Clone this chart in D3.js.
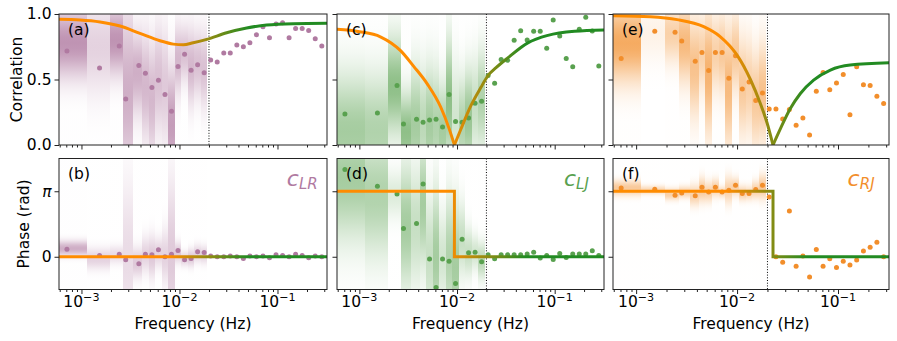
<!DOCTYPE html>
<html>
<head>
<meta charset="utf-8">
<script src="https://cdn.jsdelivr.net/npm/d3@7"></script>
<style>
	body { margin: 0; background: #fff; }
	text { font-family: 'DejaVu Sans', sans-serif; }
</style>
</head>
<body>
<script>

// frequencies of the estimated points (Hz)
var freq = [7.11e-4, 1.53e-3, 2.43e-3, 2.83e-3, 3.85e-3, 4.49e-3, 5.23e-3, 6.10e-3, 7.11e-3, 8.29e-3,
	9.66e-3, 1.127e-2, 1.313e-2, 1.531e-2, 1.786e-2, 2.081e-2, 2.427e-2, 2.831e-2, 3.298e-2, 3.846e-2,
	4.487e-2, 5.228e-2, 6.095e-2, 7.112e-2, 8.286e-2, 9.66e-2, 0.1127, 0.1313, 0.1531, 0.1786,
	0.2081, 0.2427, 0.2831];

// edges of the low frequency bins that carry an uncertainty band
var binEdges = [5.0e-4, 1.13e-3, 1.95e-3, 2.67e-3, 3.38e-3, 4.15e-3, 4.84e-3, 5.65e-3, 6.58e-3,
	7.67e-3, 8.95e-3, 1.043e-2, 1.216e-2, 1.419e-2, 1.653e-2, 1.928e-2];

var corrLR = [0.717, 0.587, 0.755, 0.352, 0.607, 0.548, 0.439, 0.495, 0.386, 0.258, 0.600, 0.692,
	0.571, 0.612, 0.551, 0.648, 0.633, 0.702, 0.702, 0.763, 0.750, 0.780, 0.842, 0.903, 0.819,
	0.923, 0.933, 0.819, 0.890, 0.890, 0.875, 0.811, 0.755];
var phaseLR = [0.36, 0.06, 0.12, -0.14, -0.34, 0.12, 0.09, 0.33, 0, 0.12, 0.30, -0.14, -0.08, 0.24,
	0.20, 0.03, 0, 0, 0.03, 0, -0.08, 0.03, 0, 0.03, -0.05, 0.10, 0.06, 0, 0.12, 0.06, -0.05, 0.03, 0];

var corrLJ = [0.237, 0.245, 0.454, 0.161, 0.197, 0.174, 0.191, 0.197, 0.138, 0.386, 0.179, 0.174,
	0.207, 0.319, 0.334, 0.531, 0.472, 0.653, 0.646, 0.799, 0.872, 0.801, 0.868, 0.868, 0.738,
	0.954, 0.832, 0.661, 0.597, 0.883, 0.975, 0.870, 0.604];
var phaseLJ = [4.19, 3.38, 3.01, 1.35, 1.59, 3.49, -0.11, -1.48, -0.11, -0.22, -1.28, 0.84, 0.19,
	0.21, -0.24, 0.10, -0.10, 0.10, 0.10, 0.10, 0.10, 0.13, 0.22, -0.06, 0.06, -0.13, 0.16, -0.03,
	0.13, 0.13, 0.13, 0.29, 0.06];

var corrRJ = [0.661, 0.868, 0.860, 0.793, 0.640, 0.707, 0.569, 0.707, 0.707, 0.510, 0.681, 0.428,
	0.480, 0.340, 0.396, 0.275, 0.275, 0.199, 0.271, 0.151, 0.207, 0.077, 0.411, 0.554, 0.421,
	0.474, 0.539, 0.230, 0.597, 0.459, 0.454, 0.373, 0.317];
var phaseRJ = [3.30, 3.24, 2.95, 3.06, 2.92, 3.33, 3.11, 3.33, 3.11, 3.19, 3.43, 3.03, 3.03, 3.22,
	3.43, 2.87, 0, -0.26, 2.20, -0.46, 0.03, -0.97, 0.35, -0.45, -0.10, -0.51, -0.22, -0.40, -0.16,
	0.27, 0.45, 0.70, 0];

// uncertainty bands per bin: [centre, spread, strength]
var bandsLRcorr = [[0.78, 0.18, 0.6], [0.75, 0.25, 0.25], [0.8, 0.18, 0.6], [0.4, 0.45, 0.45],
	[0.55, 0.22, 0.45], [0.45, 0.28, 0.4], [0.35, 0.3, 0.4], [0.5, 0.28, 0.35], [0.45, 0.3, 0.3],
	[0.15, 0.3, 0.55], [0.65, 0.18, 0.4], [0.7, 0.15, 0.35], [0.6, 0.2, 0.4], [0.62, 0.18, 0.35],
	[0.58, 0.2, 0.35]];
var bandsLRphase = [[0.4, 0.25, 0.45], [-0.1, 0.35, 0.25], [0.1, 0.3, 0.2], [0, 2.5, 0.2],
	[-0.3, 0.5, 0.3], [0.1, 0.6, 0.25], [0, 0.7, 0.3], [0.2, 0.5, 0.25], [0, 0.9, 0.25], [0, 2.5, 0.3],
	[0.2, 0.35, 0.3], [-0.1, 0.25, 0.25], [-0.05, 0.3, 0.3], [0.15, 0.3, 0.25], [0.1, 0.3, 0.25]];
var bandsLJcorr = [[0.1, 0.3, 0.4], [0.1, 0.3, 0.35], [0.45, 0.25, 0.5], [0.1, 0.2, 0.5],
	[0.15, 0.3, 0.4], [0.15, 0.3, 0.3], [0.15, 0.3, 0.4], [0.15, 0.3, 0.35], [0.1, 0.25, 0.4],
	[0.35, 0.3, 0.5], [0.2, 0.3, 0.2], [0.15, 0.25, 0.35], [0.2, 0.25, 0.45], [0.3, 0.25, 0.25],
	[0.35, 0.25, 0.35]];
var bandsLJphase = [[3.8, 2.0, 0.4], [3.0, 2.0, 0.35], [3.0, 0.8, 0.15], [1.5, 2.0, 0.4],
	[1.5, 2.0, 0.25], [2.5, 2.0, 0.4], [0, 2.0, 0.25], [0, 2.2, 0.4], [0, 1.5, 0.2], [0, 2.0, 0.35],
	[-0.5, 2.0, 0.4], [0.8, 1.2, 0.25], [0.2, 0.8, 0.25], [0.2, 0.6, 0.2], [-0.2, 0.6, 0.3]];
var bandsRJcorr = [[0.78, 0.2, 0.55], [0.85, 0.15, 0.08], [0.85, 0.15, 0.3], [0.78, 0.2, 0.45],
	[0.6, 0.25, 0.4], [0.7, 0.2, 0.3], [0.55, 0.3, 0.5], [0.7, 0.2, 0.3], [0.7, 0.2, 0.35],
	[0.45, 0.3, 0.45], [0.7, 0.2, 0.35], [0.45, 0.25, 0.35], [0.45, 0.25, 0.3], [0.35, 0.25, 0.35],
	[0.4, 0.25, 0.4]];
var bandsRJphase = [[3.3, 0.25, 0.35], [3.2, 0.15, 0.25], [3.0, 0.2, 0.3], [3.1, 0.2, 0.3],
	[2.95, 0.35, 0.3], [3.2, 0.4, 0.35], [3.1, 0.35, 0.3], [3.3, 0.3, 0.3], [3.1, 0.2, 0.25],
	[3.2, 0.45, 0.3], [3.35, 0.3, 0.3], [3.05, 0.25, 0.3], [3.05, 0.25, 0.25], [3.2, 0.3, 0.3],
	[3.35, 0.4, 0.35]];

// model curves
var fitFreqLR = [5.9e-4, 9.7e-4, 1.55e-3, 2.47e-3, 3.95e-3, 6.32e-3, 8.65e-3, 1.094e-2, 1.38e-2,
	1.9e-2, 3.03e-2, 4.85e-2, 7.76e-2, 0.145, 0.32];
var fitLR = [0.959, 0.954, 0.939, 0.908, 0.852, 0.796, 0.770, 0.765, 0.780, 0.806, 0.857, 0.893,
	0.916, 0.926, 0.929];
var fitFreqLJ = [5.9e-4, 1.0e-3, 1.64e-3, 2.64e-3, 3.6e-3, 4.97e-3, 6.8e-3, 8.3e-3, 9.4e-3,
	1.094e-2, 1.387e-2, 1.758e-2, 2.075e-2, 2.51e-2, 3.31e-2, 5.31e-2, 8.53e-2, 0.16, 0.32];
var fitLJ = [0.883, 0.865, 0.826, 0.72, 0.60, 0.465, 0.29, 0.125, 0, 0.12, 0.30, 0.44, 0.53, 0.59,
	0.665, 0.78, 0.837, 0.868, 0.878];
var fitFreqRJ = [5.9e-4, 1.387e-3, 2.55e-3, 4.67e-3, 6.84e-3, 1.0e-2, 1.355e-2, 1.70e-2, 1.98e-2,
	2.27e-2, 2.69e-2, 3.37e-2, 4.24e-2, 5.73e-2, 8.4e-2, 0.132, 0.32];
var fitRJ = [0.987, 0.979, 0.957, 0.903, 0.826, 0.686, 0.50, 0.317, 0.17, 0, 0.125, 0.278, 0.393,
	0.495, 0.572, 0.61, 0.627];

// model phase: [frequency, value] steps
var stepLR = [[5.9e-4, 0], [0.32, 0]];
var stepLJ = [[5.9e-4, Math.PI], [9.4e-3, 0], [0.32, 0]];
var stepRJ = [[5.9e-4, Math.PI], [2.27e-2, 0], [0.32, 0]];

var fDomain = [5.9e-4, 0.32],
	fCut = 0.02;

var orange = '#ff8c00',
	green = '#228b22',
	blendFrom = 0.008,
	blendTo = 0.05;

var cols = [[59, 327], [337, 604], [613, 889]],
	rows = [[14, 145], [158.5, 289.5]];

var series = [
	{name: 'LR', color: '#b07aa1', corr: corrLR, phase: phaseLR, bc: bandsLRcorr, bp: bandsLRphase,
		fitF: fitFreqLR, fitV: fitLR, step: stepLR, tags: ['(a)', '(b)'], cut: [true, false]},
	{name: 'LJ', color: '#59a14f', corr: corrLJ, phase: phaseLJ, bc: bandsLJcorr, bp: bandsLJphase,
		fitF: fitFreqLJ, fitV: fitLJ, step: stepLJ, tags: ['(c)', '(d)'], cut: [true, true]},
	{name: 'RJ', color: '#f28e2b', corr: corrRJ, phase: phaseRJ, bc: bandsRJcorr, bp: bandsRJphase,
		fitF: fitFreqRJ, fitV: fitRJ, step: stepRJ, tags: ['(e)', '(f)'], cut: [true, true]}
];

var fontSize = 15.5,
	bandGain = 1.35;

var svg = d3.select('body').append('svg')
	.attr('width', 897)
	.attr('height', 341);
var defs = svg.append('defs');

var minorTicks = [];
[1e-4, 1e-3, 1e-2, 1e-1].forEach(function(dec) {
	for (var k = 2; k < 10; k++) {
		var v = k * dec;
		if (v > fDomain[0] && v < fDomain[1]) minorTicks.push(v);
	}
});

series.forEach(function(s, c) {
	var xr = cols[c];
	var x = d3.scaleLog().domain(fDomain).range(xr);

	[0, 1].forEach(function(r) {
		var yr = rows[r];
		var y = r === 0
			? d3.scaleLinear().domain([0, 1]).range([yr[1], yr[0]])
			: d3.scaleLinear().domain([-Math.PI / 2, 3 * Math.PI / 2]).range([yr[1], yr[0]]);
		var id = 'p' + c + r;

		defs.append('clipPath').attr('id', 'clip' + id)
			.append('rect')
			.attr('x', xr[0])
			.attr('y', yr[0])
			.attr('width', xr[1] - xr[0])
			.attr('height', yr[1] - yr[0]);

		var g = svg.append('g');
		var plot = g.append('g').attr('clip-path', 'url(#clip' + id + ')');

		// uncertainty bands, a gaussian fade in each bin
		var bands = r === 0 ? s.bc : s.bp;
		bands.forEach(function(b, i) {
			var gid = 'band' + id + '_' + i;
			var grad = defs.append('linearGradient')
				.attr('id', gid)
				.attr('gradientUnits', 'userSpaceOnUse')
				.attr('x1', 0).attr('x2', 0)
				.attr('y1', y(b[0] + 3 * b[1]))
				.attr('y2', y(b[0] - 3 * b[1]));
			d3.range(25).forEach(function(k) {
				var t = k / 24, z = -3 + 6 * t;
				grad.append('stop')
					.attr('offset', t)
					.attr('stop-color', s.color)
					.attr('stop-opacity', Math.min(0.9, bandGain * b[2]) * Math.exp(-z * z / 2));
			});
			plot.append('rect')
				.attr('x', x(binEdges[i]))
				.attr('width', x(binEdges[i + 1]) - x(binEdges[i]))
				.attr('y', yr[0])
				.attr('height', yr[1] - yr[0])
				.attr('shape-rendering', 'crispEdges')
				.attr('fill', 'url(#' + gid + ')');
		});

		// cut-off frequency
		if (s.cut[r]) {
			plot.append('line')
				.attr('x1', x(fCut)).attr('x2', x(fCut))
				.attr('y1', yr[0]).attr('y2', yr[1])
				.attr('stroke', '#000')
				.attr('stroke-width', 1)
				.attr('stroke-dasharray', '1,1.7');
		}

		// estimates
		var vals = r === 0 ? s.corr : s.phase;
		plot.selectAll('circle.pt')
			.data(freq)
			.enter().append('circle')
			.attr('class', 'pt')
			.attr('cx', function(d) { return x(d); })
			.attr('cy', function(d, i) { return y(vals[i]); })
			.attr('r', 2.5)
			.attr('fill', s.color);

		// model line, orange at low and green at high frequency
		var lg = defs.append('linearGradient')
			.attr('id', 'lg' + id)
			.attr('gradientUnits', 'userSpaceOnUse')
			.attr('x1', x(blendFrom)).attr('x2', x(blendTo))
			.attr('y1', 0).attr('y2', 0);
		lg.append('stop').attr('offset', 0).attr('stop-color', orange);
		lg.append('stop').attr('offset', 1).attr('stop-color', green);

		if (r === 0) {
			var pts = s.fitF.map(function(f, i) { return [f, s.fitV[i]]; });
			var segs = [], cur = [];
			pts.forEach(function(p) {
				cur.push(p);
				if (p[1] === 0) { segs.push(cur); cur = [p]; }
			});
			segs.push(cur);
			var line = d3.line()
				.curve(d3.curveMonotoneX)
				.x(function(d) { return x(d[0]); })
				.y(function(d) { return y(d[1]); });
			segs.forEach(function(seg) {
				plot.append('path')
					.attr('d', line(seg))
					.attr('fill', 'none')
					.attr('stroke', 'url(#lg' + id + ')')
					.attr('stroke-width', 3);
			});
		} else {
			var step = d3.line()
				.curve(d3.curveStepAfter)
				.x(function(d) { return x(d[0]); })
				.y(function(d) { return y(d[1]); });
			plot.append('path')
				.attr('d', step(s.step))
				.attr('fill', 'none')
				.attr('stroke', 'url(#lg' + id + ')')
				.attr('stroke-width', 3);
		}

		// axes
		var xa = g.append('g')
			.attr('transform', 'translate(0,' + yr[1] + ')')
			.call(d3.axisBottom(x).tickValues([1e-3, 1e-2, 1e-1]).tickSize(4.5).tickFormat(''));
		var xm = g.append('g')
			.attr('transform', 'translate(0,' + yr[1] + ')')
			.call(d3.axisBottom(x).tickValues(minorTicks).tickSize(2.5).tickFormat(''));
		var ticksY = r === 0 ? [0, 0.5, 1] : [0, Math.PI];
		var ya = g.append('g')
			.attr('transform', 'translate(' + xr[0] + ',0)')
			.call(d3.axisLeft(y).tickValues(ticksY).tickSize(4.5).tickPadding(3)
				.tickFormat(function(d) {
					if (c > 0) return '';
					if (r === 0) return d3.format('.1f')(d);
					return d === 0 ? '0' : 'π';
				}));
		[xa, xm, ya].forEach(function(a) {
			a.select('.domain').remove();
			a.selectAll('line').attr('stroke', '#222').attr('stroke-width', 1);
			a.selectAll('text')
				.attr('font-size', fontSize)
				.attr('font-family', 'DejaVu Sans')
				.attr('fill', '#000');
		});
		ya.selectAll('text').filter(function(d) { return d === Math.PI; })
			.attr('font-style', 'italic');

		if (r === 1) {
			[1e-3, 1e-2, 1e-1].forEach(function(t, k) {
				var lab = g.append('text')
					.attr('x', x(t))
					.attr('y', yr[1] + 17.5)
					.attr('text-anchor', 'middle')
					.attr('font-size', fontSize)
					.text('10');
				lab.append('tspan')
					.attr('dy', -6.5)
					.attr('font-size', fontSize * 0.72)
					.text('\u2212' + (3 - k));
			});
			g.append('text')
				.attr('x', (xr[0] + xr[1]) / 2)
				.attr('y', 328.5)
				.attr('text-anchor', 'middle')
				.attr('font-size', fontSize)
				.text('Frequency (Hz)');

			var cl = g.append('text')
				.attr('x', xr[0] + 0.85 * (xr[1] - xr[0]))
				.attr('y', yr[0] + 27)
				.attr('fill', s.color)
				.attr('font-style', 'italic')
				.attr('font-size', 22)
				.text('c');
			cl.append('tspan')
				.attr('dy', 3.5)
				.attr('font-size', 15)
				.text(s.name);
		}

		// frame
		g.append('rect')
			.attr('x', xr[0])
			.attr('y', yr[0])
			.attr('width', xr[1] - xr[0])
			.attr('height', yr[1] - yr[0])
			.attr('fill', 'none')
			.attr('stroke', '#222')
			.attr('stroke-width', 1);

		g.append('text')
			.attr('x', xr[0] + 9)
			.attr('y', yr[0] + 20.5)
			.attr('font-size', fontSize)
			.text(s.tags[r]);
	});
});

svg.append('text')
	.attr('transform', 'translate(21.5,79.5) rotate(-90)')
	.attr('text-anchor', 'middle')
	.attr('font-size', fontSize)
	.text('Correlation');

svg.append('text')
	.attr('transform', 'translate(29.3,224) rotate(-90)')
	.attr('text-anchor', 'middle')
	.attr('font-size', fontSize)
	.text('Phase (rad)');

</script>
</body>
</html>
